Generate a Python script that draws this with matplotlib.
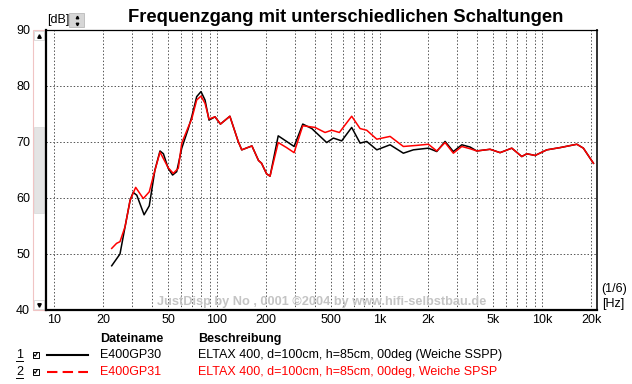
import matplotlib
matplotlib.use("Agg")
from matplotlib import pyplot as plt
from matplotlib.patches import Rectangle
from matplotlib.ticker import FixedLocator, NullFormatter

plt.rcParams["font.family"] = ["Liberation Sans", "DejaVu Sans"]

# measured curves (Hz, dB)
freq_sspp = [22.5, 25.3, 27.2, 29.2, 30.5, 32.1, 35.6, 38.3, 41.5, 44.6, 46.8, 50.1,
             53.3, 56.5, 60.7, 66.6, 69.9, 75.0, 79.7, 84.4, 89.3, 97.2, 105, 120,
             135, 142, 164, 180, 188, 202, 212, 238, 268, 298, 337, 383, 473, 520,
             585, 674, 759, 834, 962, 1161, 1401, 1614, 1997, 2249, 2530, 2845,
             3206, 3606, 3963, 4786, 5516, 6510, 7502, 8054, 9060, 10690, 12910,
             16360, 17950, 20700]
db_sspp = [47.9, 50.0, 54.9, 59.6, 61.0, 60.5, 57.0, 58.6, 65.0, 68.4, 67.9, 65.3,
           64.1, 64.7, 68.9, 72.4, 74.5, 78.1, 79.0, 77.5, 73.9, 74.5, 73.2, 74.6,
           70.1, 68.6, 69.3, 66.7, 66.2, 64.3, 63.9, 71.1, 70.1, 69.2, 73.2, 72.4,
           69.9, 70.7, 70.2, 72.6, 69.8, 70.1, 68.6, 69.5, 68.0, 68.6, 68.9, 68.3,
           70.1, 68.3, 69.5, 69.1, 68.4, 68.7, 68.1, 68.9, 67.4, 67.9, 67.6, 68.6,
           69.0, 69.6, 68.9, 66.2]

freq_spsp = [22.5, 24.1, 25.3, 27.2, 29.2, 31.6, 35.2, 38.3, 40.5, 44.6, 50.1, 53.8,
             57.8, 60.7, 66.6, 69.9, 75.0, 79.7, 84.4, 89.3, 97.2, 105, 120, 135,
             142, 164, 180, 188, 202, 212, 238, 268, 298, 337, 401, 462, 508, 566,
             674, 759, 834, 962, 1161, 1401, 1700, 1997, 2249, 2530, 2845, 3206,
             3606, 3963, 4786, 5516, 6510, 7502, 8054, 9060, 10690, 12910, 16360,
             17950, 20700]
db_spsp = [51.0, 51.9, 52.2, 54.9, 59.6, 61.9, 59.9, 61.1, 63.8, 68.2, 65.4, 64.4,
           65.3, 69.8, 72.7, 74.1, 77.5, 78.2, 76.9, 74.1, 74.5, 73.2, 74.6, 70.1,
           68.6, 69.3, 66.7, 66.2, 64.3, 63.9, 69.9, 69.0, 68.1, 72.9, 72.6, 71.7,
           72.1, 71.7, 74.6, 72.4, 72.1, 70.5, 71.0, 69.2, 69.4, 69.6, 68.4, 69.9,
           68.0, 69.2, 68.8, 68.4, 68.7, 68.1, 68.9, 67.4, 67.9, 67.6, 68.6, 69.0,
           69.6, 68.9, 66.2]

x_ticks = [10, 20, 50, 100, 200, 500, 1000, 2000, 5000, 10000, 20000]
x_labels = ["10", "20", "50", "100", "200", "500", "1k", "2k", "5k", "10k", "20k"]
x_grid = [10, 20, 30, 40, 50, 60, 70, 80, 90, 100, 200, 300, 400, 500, 600, 700,
          800, 900, 1000, 2000, 3000, 4000, 5000, 6000, 7000, 8000, 9000, 10000,
          20000]
y_ticks = [40, 50, 60, 70, 80, 90]

files = ["E400GP30", "E400GP31"]
descs = ["ELTAX 400, d=100cm, h=85cm, 00deg (Weiche SSPP)",
         "ELTAX 400, d=100cm, h=85cm, 00deg, Weiche SPSP"]
colors = ["black", "#ff0000"]

W, H = 632, 384
fig = plt.figure(figsize=(W / 100, H / 100), dpi=100)

# overlay in pixel coordinates for the window decorations
ov = fig.add_axes([0, 0, 1, 1])
ov.set_xlim(0, W)
ov.set_ylim(H, 0)
ov.axis("off")

# scrollbar
ov.add_patch(Rectangle((33, 30), 12, 280, facecolor="white", edgecolor="#f0c4c4", lw=0.8))
ov.add_patch(Rectangle((34, 127), 10, 86, facecolor="#e4e4e4", edgecolor="#d8d8d8", lw=0.5))
ov.add_patch(Rectangle((34, 31), 10, 9, facecolor="white", edgecolor="#d0d0d0", lw=0.5))
ov.add_patch(Rectangle((34, 300), 10, 9, facecolor="white", edgecolor="#d0d0d0", lw=0.5))
ov.plot([39], [35.5], marker="^", ms=2.5, color="black")
ov.plot([39], [304.5], marker="v", ms=2.5, color="black")

# [dB] spinner
ov.text(47, 20, "[dB]", fontsize=9, va="center", ha="left")
ov.add_patch(Rectangle((69, 13), 15, 14, facecolor="#d6d6d6", edgecolor="#b0b0b0", lw=0.5))
ov.plot([76.5], [17], marker="^", ms=1.8, color="black")
ov.plot([76.5], [23.5], marker="v", ms=1.8, color="black")

ov.text(345.5, 17, "Frequenzgang mit unterschiedlichen Schaltungen",
        fontsize=13.2, fontweight="bold", ha="center", va="center")

ov.text(601, 289, "(1/6)", fontsize=9, va="center", ha="left")
ov.text(602, 304, "[Hz]", fontsize=9, va="center", ha="left")

# legend table
ov.text(100, 339, "Dateiname", fontsize=9, fontweight="bold", va="center")
ov.text(198, 339, "Beschreibung", fontsize=9, fontweight="bold", va="center")
for i, (fn, ds, c) in enumerate(zip(files, descs, colors)):
    yy = 355 + i * 17
    ov.text(16, yy, str(i + 1), fontsize=9, va="center")
    ov.plot([16, 23], [yy + 6, yy + 6], color="black", lw=0.7)
    ov.add_patch(Rectangle((32.5, yy - 3.5), 6, 6, facecolor="white", edgecolor="black", lw=0.7))
    ov.plot([33.8, 35.2, 37.3], [yy - 0.5, yy + 1.2, yy - 2.2], color="black", lw=0.8)
    ls = "-" if i == 0 else (0, (5, 2.5))
    ov.plot([47, 88], [yy, yy], color=c, lw=1.5, linestyle=ls)
    ov.text(100, yy, fn, fontsize=9, va="center", color=c)
    ov.text(198, yy, ds, fontsize=9, va="center", color=c)

# main plot
ax = fig.add_axes([46 / W, 1 - 310 / H, (597 - 46) / W, (310 - 30) / H])
ax.set_xscale("log")
ax.set_xlim(8.87, 21770)
ax.set_ylim(40, 90)

ax.plot(freq_sspp, db_sspp, color=colors[0], lw=1.1, zorder=3)
ax.plot(freq_spsp, db_spsp, color=colors[1], lw=1.1, zorder=4)

ax.xaxis.set_major_locator(FixedLocator(x_ticks))
ax.set_xticklabels(x_labels)
ax.xaxis.set_minor_locator(FixedLocator(x_grid))
ax.xaxis.set_minor_formatter(NullFormatter())
ax.set_yticks(y_ticks)
ax.tick_params(axis="both", which="both", length=0, labelsize=9)
ax.tick_params(axis="y", pad=11.5)
ax.tick_params(axis="x", pad=3)

grid_kw = dict(color="#555555", linestyle=(0, (1.5, 2)), lw=0.7)
for f in x_grid:
    ax.axvline(f, zorder=1, **grid_kw)
for v in [50, 60, 70, 80]:
    ax.axhline(v, zorder=1, **grid_kw)

ax.spines["left"].set_linewidth(1.6)
ax.spines["bottom"].set_linewidth(1.6)
ax.spines["top"].set_linewidth(0.9)
ax.spines["right"].set_linewidth(1.4)
ax.spines["right"].set_color("#303030")

# watermark
ax.text((322 - 46) / (597 - 46), (310 - 302) / 280,
        "JustDisp by No , 0001 \u00a92004 by www.hifi-selbstbau.de",
        transform=ax.transAxes, ha="center", va="center", fontsize=9.2,
        fontweight="bold", color="#c4c4c4", zorder=2)

fig.savefig("out.png", dpi=100)
